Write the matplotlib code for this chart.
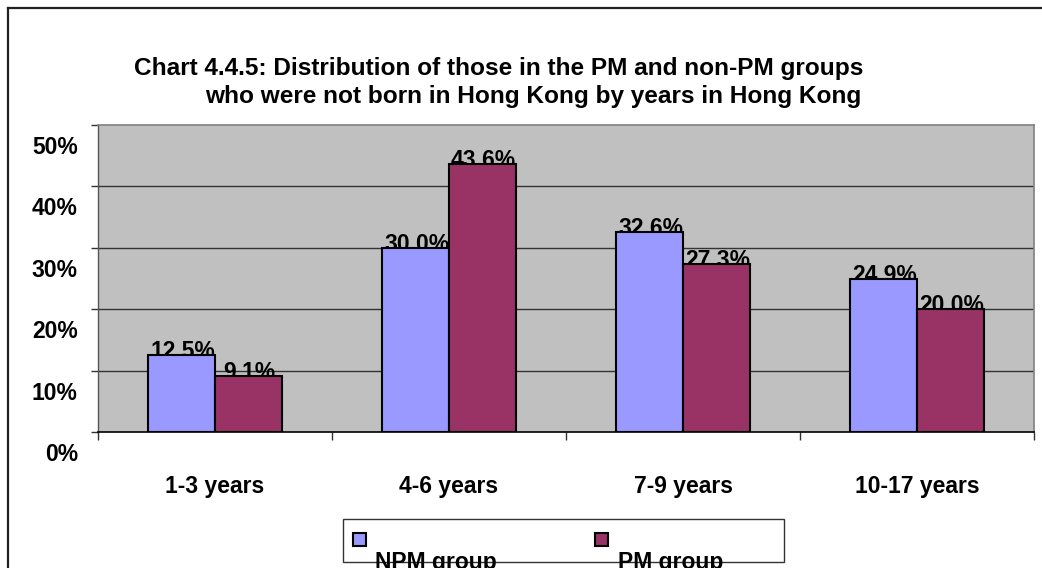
import matplotlib
matplotlib.use("Agg")
import matplotlib.pyplot as plt
import numpy as np
from matplotlib.patches import Rectangle
from matplotlib.lines import Line2D
from matplotlib.transforms import ScaledTranslation

categories = ["1-3 years", "4-6 years", "7-9 years", "10-17 years"]
npm_values = [12.5, 30.0, 32.6, 24.9]
pm_values = [9.1, 43.6, 27.3, 20.0]
series_names = ["NPM group", "PM group"]
y_ticks = [0, 10, 20, 30, 40, 50]
y_tick_labels = ["0%", "10%", "20%", "30%", "40%", "50%"]
title_line1 = "Chart 4.4.5: Distribution of those in the PM and non-PM groups"
title_line2 = "who were not born in Hong Kong by years in Hong Kong"

NPM_COLOR = "#9999FF"
PM_COLOR = "#993366"
FONT = "Liberation Sans"
FS = 16.5
TFS = 17.6

W, H = 1042, 568
fig = plt.figure(figsize=(W / 100, H / 100), dpi=100)
fig.patch.set_facecolor("white")

def fx(px):
    return px / W

def fy(py):
    return 1 - py / H

# outer border (chart area), extends beyond image right/bottom
fig.add_artist(Line2D([fx(8), fx(8)], [fy(8), fy(570)], color="#222222", lw=1.6, transform=fig.transFigure))
fig.add_artist(Line2D([fx(8), fx(1045)], [fy(8), fy(8)], color="#222222", lw=1.6, transform=fig.transFigure))

left, right, top, bottom = 98, 1034, 125, 432
ax = fig.add_axes([fx(left), fy(bottom), fx(right - left), (bottom - top) / H])
ax.set_facecolor("#C0C0C0")

x = np.arange(len(categories))
bw = 0.286
b1 = ax.bar(x - bw / 2, npm_values, bw, color=NPM_COLOR, edgecolor="black", linewidth=1.5, zorder=3)
b2 = ax.bar(x + bw / 2, pm_values, bw, color=PM_COLOR, edgecolor="black", linewidth=1.5, zorder=3)

ax.set_xlim(-0.5, len(categories) - 0.5)
ax.set_ylim(0, 50)

for yv in y_ticks[1:-1]:
    ax.axhline(yv, color="#333333", lw=1.0, zorder=1)

ax.set_yticks(y_ticks)
ax.set_yticklabels(y_tick_labels, fontsize=FS, fontweight="bold", family=FONT)
ax.tick_params(axis="y", length=5, width=1, color="#333333", pad=9.5)
offset = ScaledTranslation(0, -20 / 100, fig.dpi_scale_trans)
for lab in ax.get_yticklabels():
    lab.set_transform(lab.get_transform() + offset)

ax.set_xticks(x)
ax.set_xticklabels(categories, fontsize=FS, fontweight="bold", family=FONT)
ax.set_xticks(np.arange(-0.5, len(categories), 1.0), minor=True)
ax.tick_params(axis="x", which="major", length=0, pad=31)
ax.tick_params(axis="x", which="minor", length=6, width=1, color="#333333")

for s in ["top", "right"]:
    ax.spines[s].set_color("#808080")
    ax.spines[s].set_linewidth(1.2)
ax.spines["left"].set_color("#555555")
ax.spines["left"].set_linewidth(1.0)
ax.spines["bottom"].set_color("black")
ax.spines["bottom"].set_linewidth(1.2)

lab_off = ScaledTranslation(1 / 100, -3 / 100, fig.dpi_scale_trans)
for bars, vals in ((b1, npm_values), (b2, pm_values)):
    for rect, v in zip(bars, vals):
        t = ax.text(rect.get_x() + rect.get_width() / 2, v, f"{v:.1f}%",
                    ha="center", va="baseline", fontsize=FS, fontweight="bold",
                    family=FONT, zorder=2)
        t.set_transform(ax.transData + lab_off)

fig.text(fx(134), fy(75), title_line1, ha="left", va="baseline", fontsize=TFS,
         fontweight="bold", family=FONT)
fig.text(fx(205), fy(103), title_line2, ha="left", va="baseline", fontsize=TFS,
         fontweight="bold", family=FONT)

# legend (manual)
fig.add_artist(Rectangle((fx(343), fy(562)), fx(784 - 343), (562 - 519) / H,
                         transform=fig.transFigure, facecolor="white",
                         edgecolor="#333333", lw=1.0))
fig.add_artist(Rectangle((fx(353), fy(546)), fx(13), 13 / H, transform=fig.transFigure,
                         facecolor=NPM_COLOR, edgecolor="black", lw=1.5))
fig.add_artist(Rectangle((fx(595), fy(546)), fx(13), 13 / H, transform=fig.transFigure,
                         facecolor=PM_COLOR, edgecolor="black", lw=1.5))
fig.text(fx(375), fy(569), series_names[0], ha="left", va="baseline", fontsize=FS,
         fontweight="bold", family=FONT)
fig.text(fx(618), fy(569), series_names[1], ha="left", va="baseline", fontsize=FS,
         fontweight="bold", family=FONT)

fig.savefig("out.png", dpi=100, facecolor="white")
